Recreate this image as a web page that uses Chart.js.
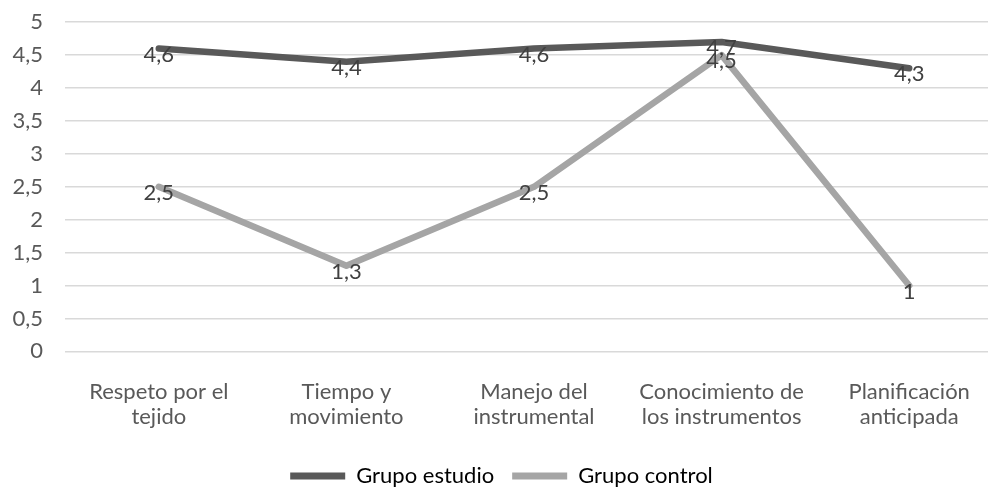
<!DOCTYPE html>
<html>
<head>
<meta charset="utf-8">
<script src="https://cdn.jsdelivr.net/npm/chart.js@4"></script>
<style>
  html, body { margin: 0; padding: 0; background: #fff; overflow: hidden; }
  #wrap { position: relative; top: -13px; width: 1030px; height: 511px; }
</style>
</head>
<body>
<div id="wrap"><canvas id="chart"></canvas></div>
<script>
const categories = [
    ['Respeto por el', 'tejido'],
    ['Tiempo y', 'movimiento'],
    ['Manejo del', 'instrumental'],
    ['Conocimiento de', 'los instrumentos'],
    ['Planificación', 'anticipada']
];
const grupoEstudio = [4.6, 4.4, 4.6, 4.7, 4.3];
const grupoControl = [2.5, 1.3, 2.5, 4.5, 1];
const seriesNames = ['Grupo estudio', 'Grupo control'];

const fontFamily = "Lato, 'Open Sans', sans-serif";

// writes the value on each point, decimal comma like the original
const pointLabels = {
    id: 'pointLabels',
    afterDatasetsDraw(chart) {
        const ctx = chart.ctx;
        ctx.save();
        ctx.font = '22px ' + fontFamily;
        ctx.fillStyle = '#404040';
        ctx.textAlign = 'center';
        ctx.textBaseline = 'middle';
        chart.data.datasets.forEach((ds, i) => {
            chart.getDatasetMeta(i).data.forEach((pt, j) => {
                ctx.fillText(String(ds.data[j]).replace('.', ','), pt.x, pt.y + 6);
            });
        });
        ctx.restore();
    }
};

new Chart(document.getElementById('chart'), {
    type: 'line',
    data: {
        labels: categories,
        datasets: [{
            label: seriesNames[0],
            data: grupoEstudio,
            borderColor: '#595959',
            backgroundColor: '#595959',
            borderWidth: 6.5,
            pointRadius: 0,
            borderCapStyle: 'round',
            borderJoinStyle: 'round'
        }, {
            label: seriesNames[1],
            data: grupoControl,
            borderColor: '#A5A5A5',
            backgroundColor: '#A5A5A5',
            borderWidth: 6.5,
            pointRadius: 0,
            borderCapStyle: 'round',
            borderJoinStyle: 'round'
        }]
    },
    options: {
        responsive: true,
        maintainAspectRatio: false,
        animation: false,
        layout: { padding: { top: 2, right: 27, bottom: 1, left: 0 } },
        plugins: {
            tooltip: { enabled: false },
            legend: {
                position: 'bottom',
                labels: {
                    color: '#595959',
                    font: { family: fontFamily, size: 22 },
                    boxWidth: 55,
                    boxHeight: 7,
                    padding: 18,
                    generateLabels(chart) {
                        return chart.data.datasets.map((ds, i) => ({
                            text: ds.label,
                            fillStyle: ds.borderColor,
                            strokeStyle: ds.borderColor,
                            lineWidth: 0,
                            datasetIndex: i
                        }));
                    }
                }
            }
        },
        scales: {
            x: {
                offset: true,
                afterFit(scale) { scale.height -= 3; },
                grid: { display: false },
                border: { display: false },
                ticks: {
                    color: '#595959',
                    font: { family: fontFamily, size: 22, lineHeight: 1.15 },
                    maxRotation: 0,
                    padding: 20
                }
            },
            y: {
                min: 0,
                max: 5,
                afterFit(scale) { scale.width = 65; },
                ticks: {
                    stepSize: 0.5,
                    color: '#595959',
                    font: { family: fontFamily, size: 22 },
                    padding: 22,
                    callback: v => String(v).replace('.', ',')
                },
                grid: { color: '#D9D9D9', lineWidth: 1.5, drawTicks: false },
                border: { display: false }
            }
        }
    },
    plugins: [pointLabels]
});
</script>
</body>
</html>
